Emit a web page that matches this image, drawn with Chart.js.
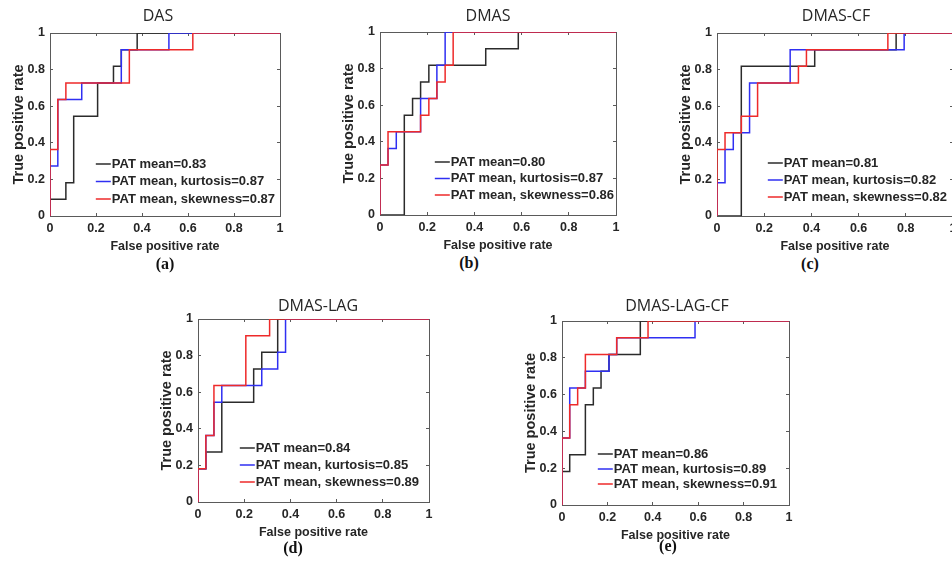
<!DOCTYPE html>
<html>
<head>
<meta charset="utf-8">
<script src="https://cdn.jsdelivr.net/npm/chart.js@4.4.1/dist/chart.umd.min.js"></script>
<style>
  html, body { margin: 0; padding: 0; background: #fff; }
  #figure { position: relative; width: 952px; height: 562px; overflow: hidden; }
  #figure canvas { position: absolute; }
  .panel-title, .panel-letter {
    position: absolute;
    transform: translate(-50%, -50%);
    white-space: nowrap;
    line-height: 1;
  }
  .panel-title { font: 16px "Open Sans", sans-serif; color: #262626; }
  .panel-letter { font: bold 16px "Liberation Serif", "Times New Roman", serif; color: #111; }
</style>
</head>
<body>
<div id="figure">
  <canvas id="c-a"></canvas>
  <canvas id="c-b"></canvas>
  <canvas id="c-c"></canvas>
  <canvas id="c-d"></canvas>
  <canvas id="c-e"></canvas>
</div>
<script>
// tick labels, shared by every panel
const tickValues = [0, 0.2, 0.4, 0.6, 0.8, 1];

// legend texts (AUC per feature set)
const labelsDAS = ["PAT mean=0.83", "PAT mean, kurtosis=0.87", "PAT mean, skewness=0.87"];
const labelsDMAS = ["PAT mean=0.80", "PAT mean, kurtosis=0.87", "PAT mean, skewness=0.86"];
const labelsDMASCF = ["PAT mean=0.81", "PAT mean, kurtosis=0.82", "PAT mean, skewness=0.82"];
const labelsDMASLAG = ["PAT mean=0.84", "PAT mean, kurtosis=0.85", "PAT mean, skewness=0.89"];
const labelsDMASLAGCF = ["PAT mean=0.86", "PAT mean, kurtosis=0.89", "PAT mean, skewness=0.91"];

// ROC points (false positive rate / true positive rate), step drawn horizontally first

// DAS
const fprDasMean = [0, 0, 0.069, 0.103, 0.207, 0.276, 0.310, 0.379, 1];
const tprDasMean = [0, 0.091, 0.182, 0.545, 0.727, 0.818, 0.909, 1, 1];
const fprDasKurt = [0, 0, 0.034, 0.138, 0.310, 0.517, 1];
const tprDasKurt = [0, 0.273, 0.636, 0.727, 0.909, 1, 1];
const fprDasSkew = [0, 0, 0.034, 0.069, 0.345, 0.621, 1];
const tprDasSkew = [0, 0.364, 0.636, 0.727, 0.909, 1, 1];

// DMAS
const fprDmasMean = [0, 0.103, 0.138, 0.172, 0.207, 0.448, 0.586, 1];
const tprDmasMean = [0, 0.545, 0.636, 0.727, 0.818, 0.909, 1, 1];
const fprDmasKurt = [0, 0, 0.034, 0.069, 0.172, 0.241, 0.276, 1];
const tprDmasKurt = [0, 0.273, 0.364, 0.455, 0.636, 0.818, 1, 1];
const fprDmasSkew = [0, 0, 0.034, 0.172, 0.207, 0.241, 0.276, 0.310, 1];
const tprDmasSkew = [0, 0.273, 0.455, 0.545, 0.636, 0.727, 0.818, 1, 1];

// DMAS-CF
const fprCfMean = [0, 0.103, 0.414, 0.759, 1];
const tprCfMean = [0, 0.818, 0.909, 1, 1];
const fprCfKurt = [0, 0, 0.034, 0.069, 0.138, 0.310, 0.793, 1];
const tprCfKurt = [0, 0.182, 0.364, 0.455, 0.727, 0.909, 1, 1];
const fprCfSkew = [0, 0, 0.034, 0.103, 0.172, 0.345, 0.379, 0.724, 1];
const tprCfSkew = [0, 0.364, 0.455, 0.545, 0.727, 0.818, 0.909, 1, 1];

// DMAS-LAG
const fprLagMean = [0, 0, 0.034, 0.103, 0.241, 0.276, 0.345, 1];
const tprLagMean = [0, 0.182, 0.273, 0.545, 0.727, 0.818, 1, 1];
const fprLagKurt = [0, 0, 0.034, 0.069, 0.103, 0.276, 0.345, 0.379, 1];
const tprLagKurt = [0, 0.182, 0.364, 0.545, 0.636, 0.727, 0.818, 1, 1];
const fprLagSkew = [0, 0, 0.034, 0.069, 0.207, 0.310, 1];
const tprLagSkew = [0, 0.182, 0.364, 0.636, 0.909, 1, 1];

// DMAS-LAG-CF
const fprLagCfMean = [0, 0, 0.034, 0.103, 0.138, 0.172, 0.207, 0.345, 1];
const tprLagCfMean = [0, 0.182, 0.273, 0.545, 0.636, 0.727, 0.818, 1, 1];
const fprLagCfKurt = [0, 0, 0.034, 0.103, 0.207, 0.241, 0.586, 1];
const tprLagCfKurt = [0, 0.364, 0.636, 0.727, 0.818, 0.909, 1, 1];
const fprLagCfSkew = [0, 0, 0.034, 0.069, 0.103, 0.241, 0.379, 1];
const tprLagCfSkew = [0, 0.364, 0.545, 0.636, 0.818, 0.909, 1, 1];

const lineColors = ["#2b2b2b", "#2f2ff2", "#ee2a2a"];
const textColor = "#262626";
const axisColor = "#5a5a5a";
const sansBold = "'Liberation Sans', Arial, sans-serif";

// where each plot box sits in the figure, where its title and letter go, and legend placement
const panels = [
  { id: "a", title: "DAS", letter: "(a)", left: 50, top: 33, width: 230, height: 183,
    titleX: 158, titleY: 15, letterX: 165, letterY: 264,
    labels: labelsDAS, legendRight: 5, legendBottom: 17, legendRow: 17.5,
    curves: [[fprDasMean, tprDasMean], [fprDasKurt, tprDasKurt], [fprDasSkew, tprDasSkew]] },
  { id: "b", title: "DMAS", letter: "(b)", left: 380, top: 32, width: 236, height: 183,
    titleX: 488, titleY: 15, letterX: 469, letterY: 263,
    labels: labelsDMAS, legendRight: 2, legendBottom: 20, legendRow: 16.5,
    curves: [[fprDmasMean, tprDmasMean], [fprDmasKurt, tprDmasKurt], [fprDmasSkew, tprDmasSkew]] },
  { id: "c", title: "DMAS-CF", letter: "(c)", left: 717, top: 33, width: 236, height: 183,
    titleX: 836, titleY: 15, letterX: 810, letterY: 264,
    labels: labelsDMASCF, legendRight: 6, legendBottom: 19, legendRow: 17,
    curves: [[fprCfMean, tprCfMean], [fprCfKurt, tprCfKurt], [fprCfSkew, tprCfSkew]] },
  { id: "d", title: "DMAS-LAG", letter: "(d)", left: 198, top: 319, width: 231, height: 183,
    titleX: 318, titleY: 305, letterX: 293, letterY: 548,
    labels: labelsDMASLAG, legendRight: 10, legendBottom: 20, legendRow: 17,
    curves: [[fprLagMean, tprLagMean], [fprLagKurt, tprLagKurt], [fprLagSkew, tprLagSkew]] },
  { id: "e", title: "DMAS-LAG-CF", letter: "(e)", left: 562, top: 321, width: 227, height: 184,
    titleX: 677, titleY: 305, letterX: 668, letterY: 546,
    labels: labelsDMASLAGCF, legendRight: 12, legendBottom: 21, legendRow: 15,
    curves: [[fprLagCfMean, tprLagCfMean], [fprLagCfKurt, tprLagCfKurt], [fprLagCfSkew, tprLagCfSkew]] },
];

// legend drawn inside the plot, lower right, MATLAB style (no box)
const insideLegend = {
  id: "insideLegend",
  afterDatasetsDraw(chart, args, opts) {
    const { ctx, chartArea } = chart;
    const sets = chart.data.datasets;
    ctx.save();
    ctx.font = "bold 13px " + sansBold;
    const widest = Math.max(...sets.map((d) => ctx.measureText(d.label).width));
    const lineLen = 15;
    const x0 = chartArea.right - opts.right - widest - lineLen - 1;
    const yLast = chartArea.bottom - opts.bottom;
    sets.forEach((d, i) => {
      const y = yLast - (sets.length - 1 - i) * opts.row;
      ctx.strokeStyle = d.borderColor;
      ctx.lineWidth = 1.5;
      ctx.beginPath();
      ctx.moveTo(x0, y);
      ctx.lineTo(x0 + lineLen, y);
      ctx.stroke();
      ctx.fillStyle = textColor;
      ctx.textAlign = "left";
      ctx.textBaseline = "middle";
      ctx.fillText(d.label, x0 + lineLen + 1, y);
    });
    ctx.restore();
  },
};

function setTicks(scale) {
  scale.ticks = tickValues.map((v) => ({ value: v }));
}

function edgeAxis(axis, position) {
  return {
    type: "linear",
    axis: axis,
    position: position,
    min: 0,
    max: 1,
    afterBuildTicks: setTicks,
    afterFit: (s) => {
      if (axis === "x") s.height = 0;
      else s.width = 0;
    },
    ticks: { display: false },
    grid: { drawOnChartArea: false, tickLength: -3, color: axisColor },
    border: { display: true, color: axisColor },
  };
}

function addText(cls, text, x, y) {
  const div = document.createElement("div");
  div.className = cls;
  div.textContent = text;
  div.style.left = x + "px";
  div.style.top = y + "px";
  document.getElementById("figure").appendChild(div);
}

function drawPanel(p) {
  const yAxisW = 50;
  const topPad = 33;
  const xAxisH = 38;
  const padRight = 12;

  const canvas = document.getElementById("c-" + p.id);
  canvas.width = yAxisW + p.width + padRight;
  canvas.height = topPad + p.height + xAxisH;
  canvas.style.left = p.left - yAxisW + "px";
  canvas.style.top = p.top - topPad + "px";

  addText("panel-title", p.title, p.titleX, p.titleY);
  addText("panel-letter", p.letter, p.letterX, p.letterY);

  const datasets = p.curves.map((c, i) => ({
    label: p.labels[i],
    data: c[0].map((x, k) => ({ x: x, y: c[1][k] })),
    borderColor: lineColors[i],
    backgroundColor: lineColors[i],
    borderWidth: 1.5,
    pointRadius: 0,
    stepped: true,
    tension: 0,
    order: 3 - i,
  }));

  new Chart(canvas, {
    type: "line",
    data: { datasets: datasets },
    options: {
      responsive: false,
      animation: false,
      events: [],
      layout: { padding: { left: 0, right: padRight, top: topPad, bottom: 0 } },
      scales: {
        x: {
          type: "linear",
          position: "bottom",
          min: 0,
          max: 1,
          afterBuildTicks: setTicks,
          afterFit: (s) => { s.height = xAxisH; },
          ticks: {
            maxRotation: 0,
            padding: 8,
            color: textColor,
            font: { family: sansBold, weight: "bold", size: 12.5 },
            callback: (v) => String(v),
          },
          grid: { drawOnChartArea: false, tickLength: -3, color: axisColor },
          border: { display: true, color: axisColor },
          title: {
            display: true,
            text: "False positive rate",
            color: textColor,
            font: { family: sansBold, weight: "bold", size: 12.5 },
            padding: { top: 0, bottom: 0 },
          },
        },
        y: {
          type: "linear",
          position: "left",
          min: 0,
          max: 1,
          afterBuildTicks: setTicks,
          afterFit: (s) => { s.width = yAxisW; },
          ticks: {
            padding: 8,
            color: textColor,
            font: { family: sansBold, weight: "bold", size: 12.5 },
            callback: (v) => String(v),
          },
          grid: { drawOnChartArea: false, tickLength: -3, color: axisColor },
          border: { display: true, color: axisColor },
          title: {
            display: true,
            text: "True positive rate",
            color: textColor,
            font: { family: sansBold, weight: "bold", size: 14.5 },
            padding: { top: 10.5, bottom: 0 },
          },
        },
        x2: edgeAxis("x", "top"),
        y2: edgeAxis("y", "right"),
      },
      plugins: {
        legend: { display: false },
        tooltip: { enabled: false },
        insideLegend: { right: p.legendRight, bottom: p.legendBottom, row: p.legendRow },
      },
    },
    plugins: [insideLegend],
  });
}

panels.forEach(drawPanel);
</script>
</body>
</html>
